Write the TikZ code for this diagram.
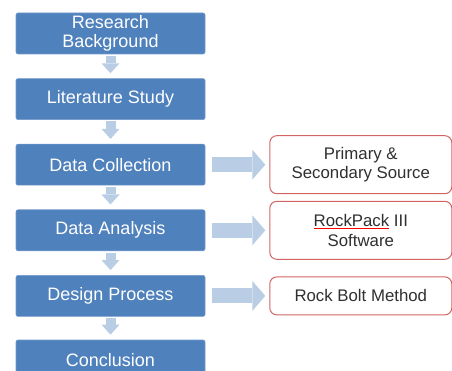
\documentclass[tikz,border=0pt]{standalone}
\usepackage{fontspec}
\setmainfont{Liberation Sans}
\usetikzlibrary{positioning,arrows.meta}
\definecolor{stageblue}{HTML}{4F81BD}
\definecolor{stageedge}{HTML}{7399CB}
\definecolor{arrowblue}{HTML}{B9CDE5}
\definecolor{sourcered}{HTML}{D26563}
\definecolor{sourcetext}{HTML}{303030}
\newcommand{\spellmark}[1]{{\color{red}$\underline{\hbox{\color{sourcetext}#1}}$}}

\begin{document}
\begin{tikzpicture}[x=1pt,y=1pt,
    stage/.style={rectangle,rounded corners=2pt,fill=stageblue,draw=stageedge,line width=0.6pt,
      text=white,minimum width=189pt,minimum height=41pt,inner sep=1pt,align=center,
      font=\fontsize{18}{19}\selectfont},
    source/.style={rectangle,rounded corners=7pt,fill=white,draw=sourcered,line width=1pt,
      text=sourcetext,minimum width=182pt,inner sep=1pt,align=center,
      font=\fontsize{16.8}{19.5}\selectfont},
    down/.style={draw=arrowblue,line width=10pt,-{Triangle[length=10pt,width=18pt,line width=0pt]},
      shorten <=1.5pt,shorten >=5pt},
    across/.style={draw=arrowblue,line width=15pt,-{Triangle[length=13pt,width=30pt,line width=0pt]},
      shorten <=7pt,shorten >=4pt},
    node distance=24pt]
    \useasboundingbox (0,0) rectangle (452,-371);
    % left column
    \node[stage] (bg) at (110.5,-33.5) {Research\\Background};
    \node[stage] (lit)[below=of bg] {Literature Study};
    \node[stage] (col)[below=of lit] {Data Collection};
    \node[stage] (ana)[below=of col] {Data Analysis};
    \node[stage] (des)[below=of ana] {Design Process};
    \node[stage] (con)[below=23pt of des] {Conclusion};
    % right column
    \node[source,minimum height=58pt] (src)[right=64pt of col] {Primary \&\\Secondary Source};
    \node[source,minimum height=58pt] (soft)[right=64pt of ana] {\spellmark{RockPack} III\\Software};
    \node[source,minimum height=38pt] (bolt)[right=64pt of des] {Rock Bolt Method};
    % arrows
    \draw[down] (bg) -- (lit);
    \draw[down] (lit) -- (col);
    \draw[down] (col) -- (ana);
    \draw[down] (ana) -- (des);
    \draw[down] (des) -- (con);
    \draw[across] (col) -- (src);
    \draw[across] (ana) -- (soft);
    \draw[across] (des) -- (bolt);
\end{tikzpicture}
\end{document}
